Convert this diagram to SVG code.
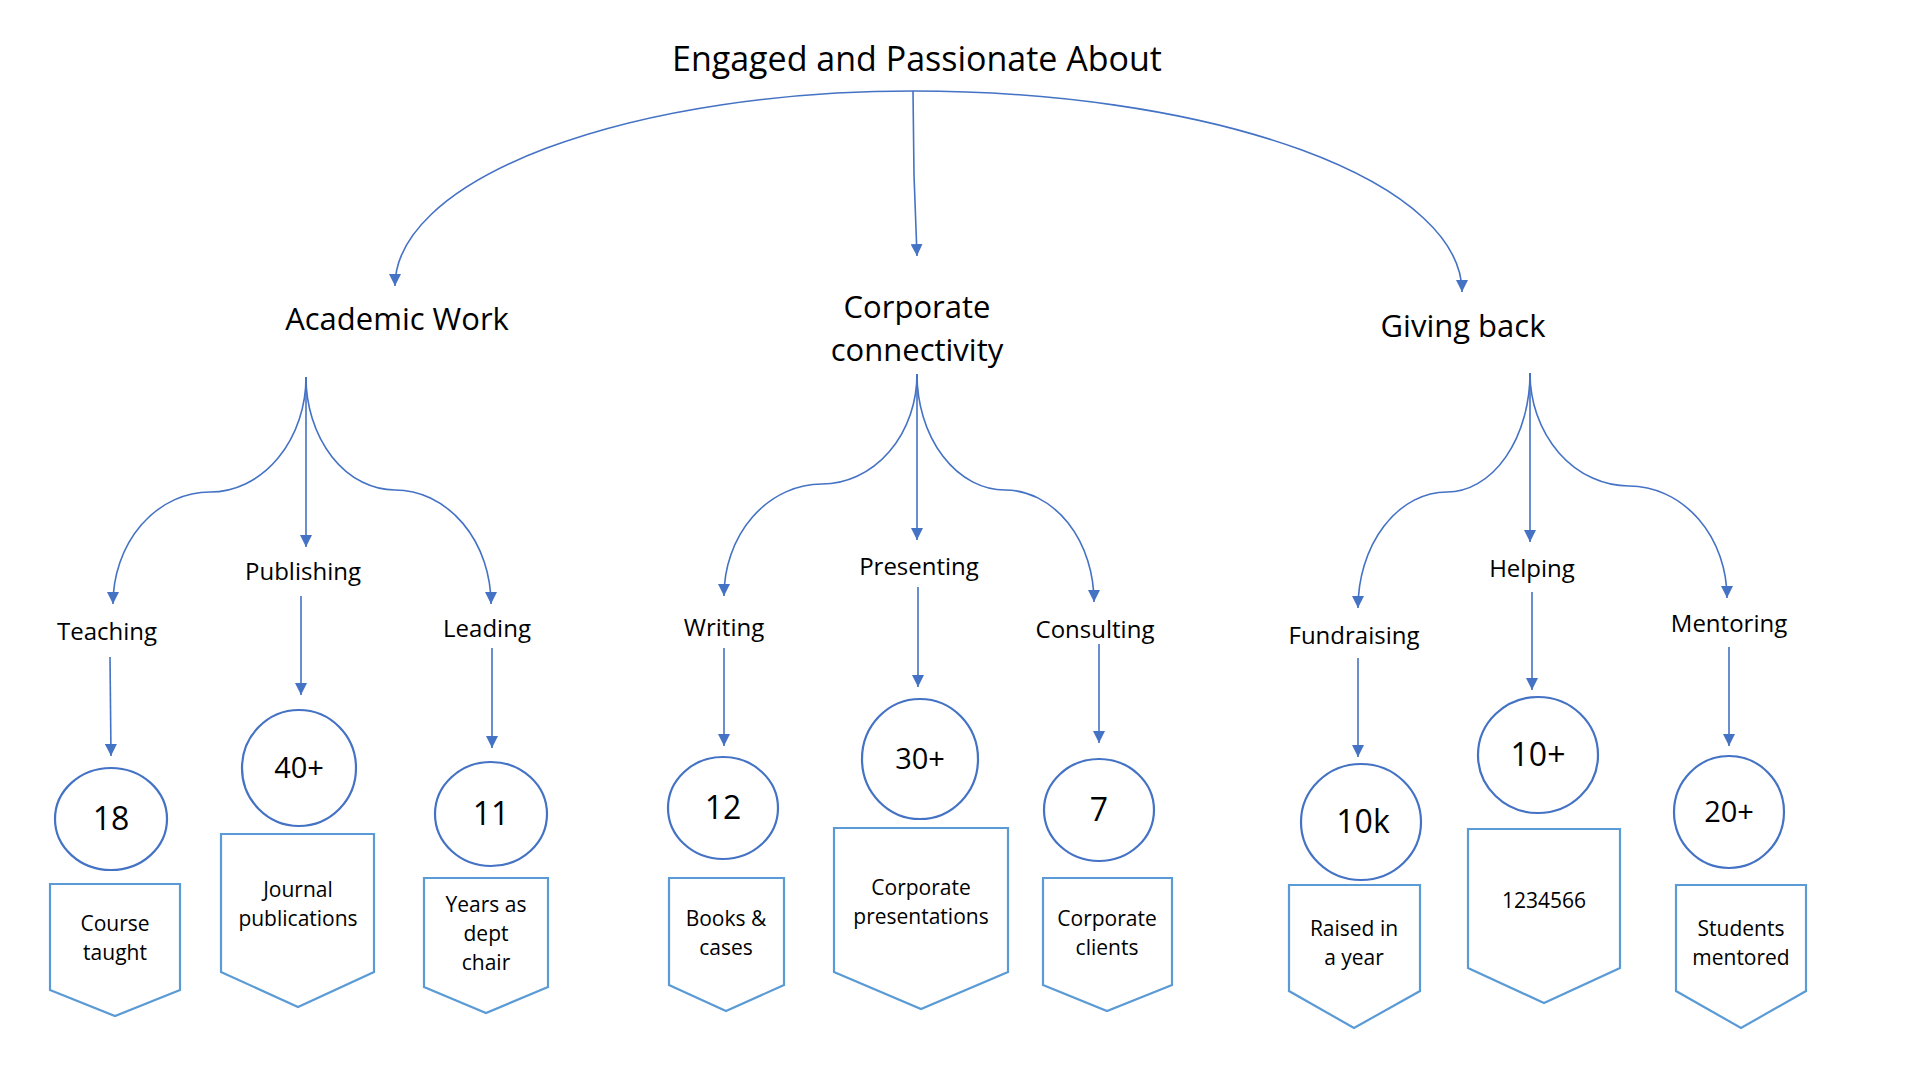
<svg xmlns="http://www.w3.org/2000/svg" width="1906" height="1078" viewBox="0 0 1906 1078">
<defs>
<marker id="arr" viewBox="0 0 12 12" refX="12" refY="6" markerWidth="12" markerHeight="12" markerUnits="userSpaceOnUse" orient="auto">
<path d="M0,0 L12,6 L0,12 z" fill="#4472C4"/>
</marker>
<style>
text{font-family:"Open Sans","Noto Sans","DejaVu Sans",sans-serif;fill:#000;text-anchor:middle}
.t0{font-size:34px}
.t1{font-size:31px}
.t2{font-size:24px}
.t3{font-size:21px}
.num{font-size:29px}
.numl{font-size:32px}
.c{fill:#fff;stroke:#4472C4;stroke-width:2.2}
.b{fill:#fff;stroke:#5B9BD5;stroke-width:2.2}
.con path,.con line{fill:none;stroke:#4472C4;stroke-width:1.6;marker-end:url(#arr)}
</style>
</defs>
<rect width="1906" height="1078" fill="#fff"/>
<g class="con" id="connectors">
<path d="M913,91 A518,195 0 0 0 395,286"/>
<path d="M913,91 A549,201 0 0 1 1462,292"/>
<path d="M913,91 L914,175 L917,256"/>
<path d="M306,377 A96,115 0 0 1 210,492 A97,112 0 0 0 113,604"/>
<path d="M306,377 A89,113 0 0 0 395,490 A96,114 0 0 1 491,604"/>
<line x1="306" y1="377" x2="306" y2="547"/>
<path d="M917,374 A95,110 0 0 1 822,484 A98,112 0 0 0 724,596"/>
<path d="M917,374 A88,116 0 0 0 1005,490 A89,112 0 0 1 1094,602"/>
<line x1="917" y1="374" x2="917" y2="540"/>
<path d="M1530,373 A83,119 0 0 1 1447,492 A89,116 0 0 0 1358,608"/>
<path d="M1530,373 A99,113 0 0 0 1629,486 A98,112 0 0 1 1727,598"/>
<line x1="1530" y1="373" x2="1530" y2="542"/>
<line x1="110" y1="657" x2="111" y2="756"/>
<line x1="301" y1="596" x2="301" y2="695"/>
<line x1="492" y1="648" x2="492" y2="748"/>
<line x1="724" y1="648" x2="724" y2="746"/>
<line x1="918" y1="587" x2="918" y2="687"/>
<line x1="1099" y1="644" x2="1099" y2="743"/>
<line x1="1358" y1="658" x2="1358" y2="757"/>
<line x1="1532" y1="592" x2="1532" y2="690"/>
<line x1="1729" y1="647" x2="1729" y2="746"/>
</g>
<g id="title"><text class="t0" x="917" y="71">Engaged and Passionate About</text></g>
<g id="academic"><text class="t1" x="397" y="330">Academic Work</text></g>
<g id="corporate"><text class="t1" x="917" y="318">Corporate</text><text class="t1" x="917" y="361">connectivity</text></g>
<g id="giving"><text class="t1" x="1463" y="337">Giving back</text></g>

<g id="teaching"><text class="t2" x="107" y="640">Teaching</text></g>
<g id="publishing"><text class="t2" x="303" y="580">Publishing</text></g>
<g id="leading"><text class="t2" x="487" y="637">Leading</text></g>
<g id="writing"><text class="t2" x="724" y="636">Writing</text></g>
<g id="presenting"><text class="t2" x="919" y="575">Presenting</text></g>
<g id="consulting"><text class="t2" x="1095" y="638">Consulting</text></g>
<g id="fundraising"><text class="t2" x="1354" y="644">Fundraising</text></g>
<g id="helping"><text class="t2" x="1532" y="577">Helping</text></g>
<g id="mentoring"><text class="t2" x="1729" y="632">Mentoring</text></g>

<g id="n18"><ellipse class="c" cx="111" cy="819" rx="56" ry="51"/><text class="numl" x="111" y="830">18</text></g>
<g id="n40"><ellipse class="c" cx="299" cy="768" rx="57" ry="58"/><text class="num" x="299" y="778">40+</text></g>
<g id="n11"><ellipse class="c" cx="491" cy="814" rx="56" ry="52"/><text class="numl" x="491" y="825">11</text></g>
<g id="n12"><ellipse class="c" cx="723" cy="808" rx="55" ry="51"/><text class="numl" x="723" y="819">12</text></g>
<g id="n30"><ellipse class="c" cx="920" cy="759" rx="58" ry="60"/><text class="num" x="920" y="769">30+</text></g>
<g id="n7"><ellipse class="c" cx="1099" cy="810" rx="55" ry="51"/><text class="numl" x="1099" y="821">7</text></g>
<g id="n10k"><ellipse class="c" cx="1361" cy="822" rx="60" ry="58"/><text class="numl" x="1363" y="833">10k</text></g>
<g id="n10"><ellipse class="c" cx="1538" cy="755" rx="60" ry="58"/><text class="numl" x="1538" y="766">10+</text></g>
<g id="n20"><ellipse class="c" cx="1729" cy="812" rx="55" ry="56"/><text class="num" x="1729" y="822">20+</text></g>

<g id="b-course"><path class="b" d="M50,884 H180 V990 L115,1016 L50,990 Z"/><text class="t3" x="115" y="931">Course</text><text class="t3" x="115" y="960">taught</text></g>
<g id="b-journal"><path class="b" d="M221,834 H374 V972 L298,1007 L221,972 Z"/><text class="t3" x="298" y="897">Journal</text><text class="t3" x="298" y="926">publications</text></g>
<g id="b-years"><path class="b" d="M424,878 H548 V987 L486,1013 L424,987 Z"/><text class="t3" x="486" y="912">Years as</text><text class="t3" x="486" y="941">dept</text><text class="t3" x="486" y="970">chair</text></g>
<g id="b-books"><path class="b" d="M669,878 H784 V985 L726,1011 L669,985 Z"/><text class="t3" x="726" y="926">Books &amp;</text><text class="t3" x="726" y="955">cases</text></g>
<g id="b-corppres"><path class="b" d="M834,828 H1008 V972 L921,1009 L834,972 Z"/><text class="t3" x="921" y="895">Corporate</text><text class="t3" x="921" y="924">presentations</text></g>
<g id="b-corpcli"><path class="b" d="M1043,878 H1172 V985 L1107,1011 L1043,985 Z"/><text class="t3" x="1107" y="926">Corporate</text><text class="t3" x="1107" y="955">clients</text></g>
<g id="b-raised"><path class="b" d="M1289,885 H1420 V991 L1354,1028 L1289,991 Z"/><text class="t3" x="1354" y="936">Raised in</text><text class="t3" x="1354" y="965">a year</text></g>
<g id="b-123"><path class="b" d="M1468,829 H1620 V968 L1544,1003 L1468,968 Z"/><text class="t3" x="1544" y="908">1234566</text></g>
<g id="b-students"><path class="b" d="M1676,885 H1806 V991 L1741,1028 L1676,991 Z"/><text class="t3" x="1741" y="936">Students</text><text class="t3" x="1741" y="965">mentored</text></g>
</svg>
